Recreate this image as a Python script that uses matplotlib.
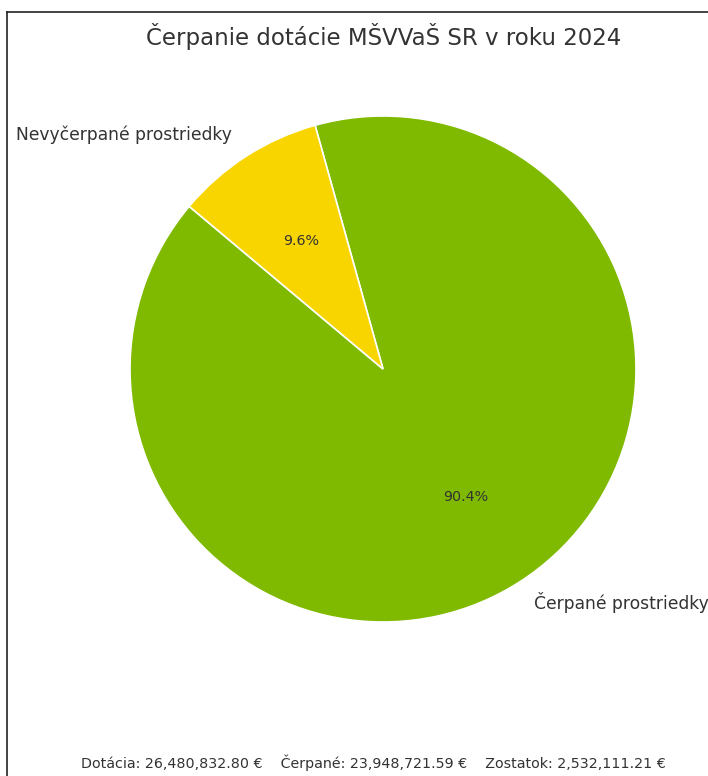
import matplotlib
matplotlib.use("Agg")
import matplotlib.pyplot as plt
from matplotlib.lines import Line2D

labels = ["Čerpané prostriedky", "Nevyčerpané prostriedky"]
values = [23948721.59, 2532111.21]
colors = ["#7fba00", "#f9d500"]
total = 26480832.80
title = "Čerpanie dotácie MŠVVaŠ SR v roku 2024"

W, H = 708, 776
fig = plt.figure(figsize=(W / 100, H / 100), dpi=100)
plt.rcParams['font.family'] = ['DejaVu Sans']
txt = "#333333"
s = 1.03

cx, cy, r = 383, 776 - 369, 253
side = 2.5 * r
ax = fig.add_axes([(cx - side / 2) / W, (cy - side / 2) / H, side / W, side / H])
wedges, texts, autotexts = ax.pie(
    values, labels=labels, colors=colors, startangle=140,
    autopct="%1.1f%%", wedgeprops=dict(edgecolor="white", linewidth=1.2),
    textprops=dict(color=txt, fontsize=12 * s))
for t in autotexts:
    t.set_fontsize(10 * s)
ax.set_aspect("equal")

fig.text(383.5 / W, 1 - 36.5 / H, title, ha="center", va="center", fontsize=16 * s, color=txt)
footer = (f"Dotácia: {total:,.2f} €    Čerpané: {values[0]:,.2f} €    "
          f"Zostatok: {values[1]:,.2f} €")
fig.text(373.5 / W, 1 - 763 / H, footer, ha="center", va="center", fontsize=10 * s, color=txt)

bx, by = 6.5 / W, 1 - 11.5 / H
fig.add_artist(Line2D([bx, 1.0], [by, by], transform=fig.transFigure, color="#222222", lw=1.2))
fig.add_artist(Line2D([bx, bx], [0, by], transform=fig.transFigure, color="#222222", lw=1.2))

fig.savefig("out.png", dpi=100)
